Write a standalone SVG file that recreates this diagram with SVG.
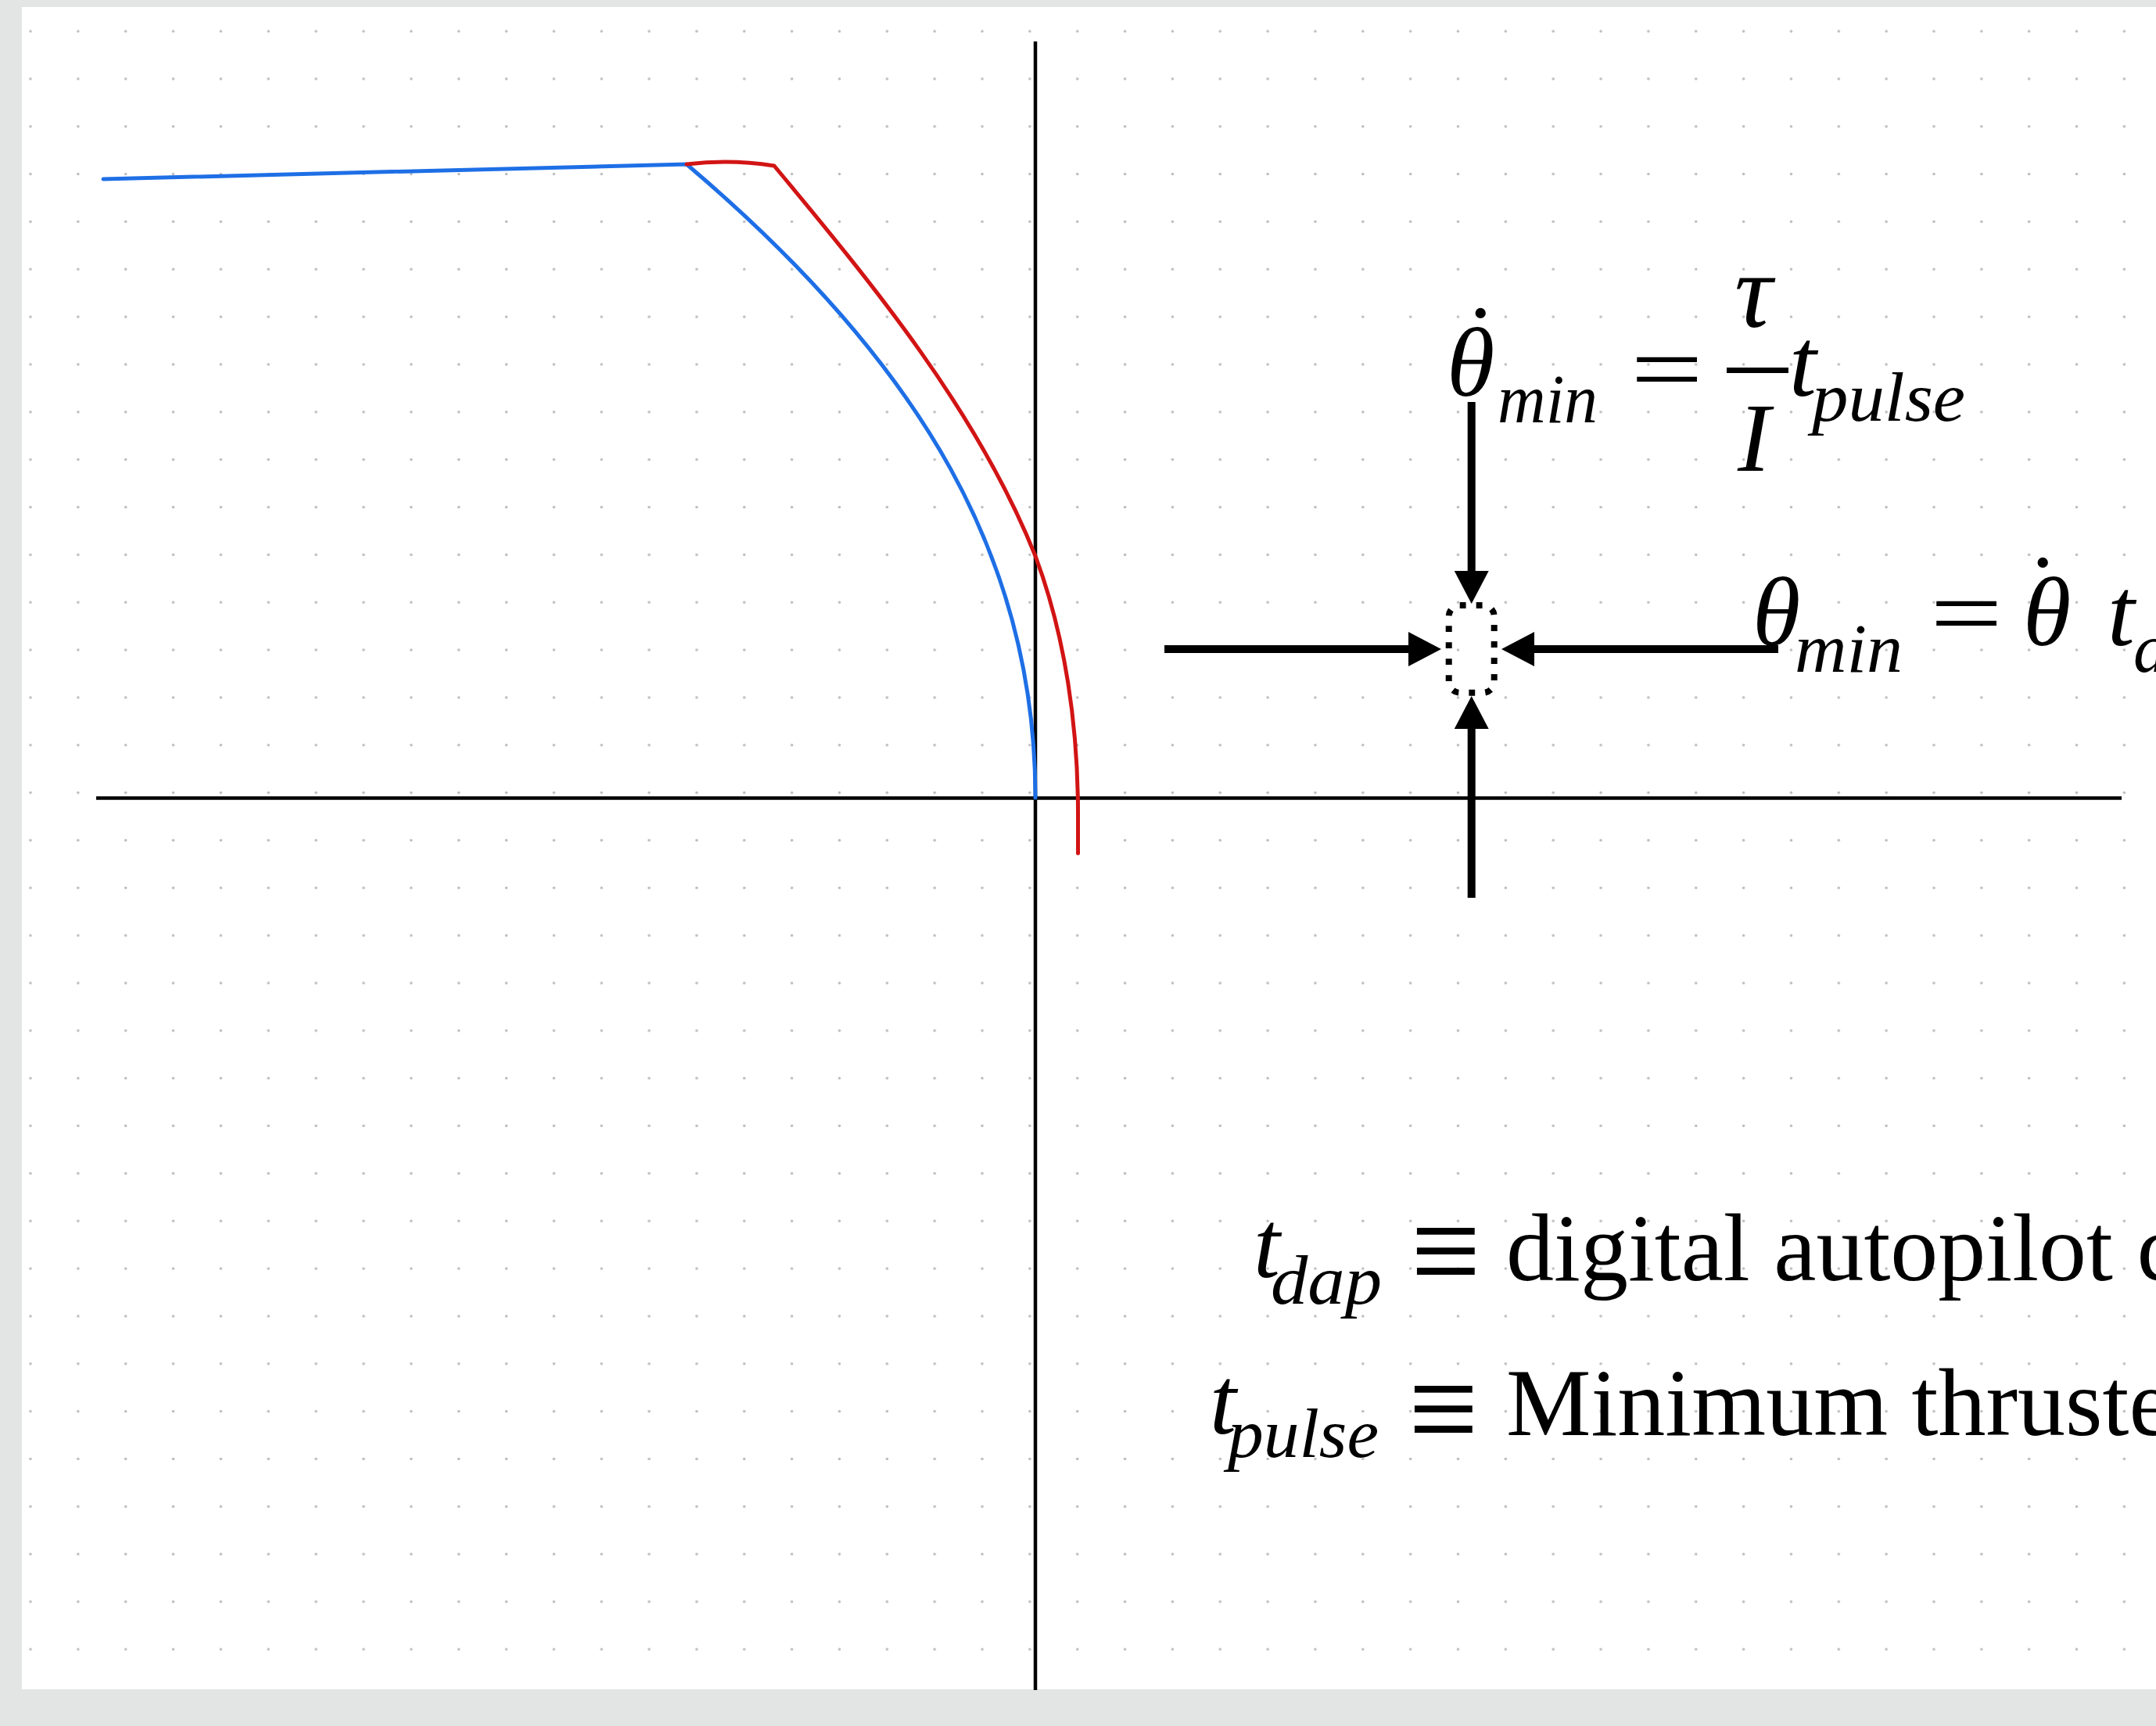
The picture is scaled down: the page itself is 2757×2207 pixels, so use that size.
<svg xmlns="http://www.w3.org/2000/svg" width="2757" height="2207" viewBox="0 0 2757 2207">
<style>
.math{font-family:"Liberation Serif","Times New Roman",serif;font-style:italic;fill:#000}
.rm{font-family:"Liberation Serif","Times New Roman",serif;fill:#000}
.axis{stroke:#000;stroke-width:4.5;fill:none}
.shaft{stroke:#000;stroke-width:10;fill:none;marker-end:url(#head)}
</style>
<defs>
<pattern id="dots" patternUnits="userSpaceOnUse" x="8.575" y="9.575" width="60.85" height="60.85">
<circle cx="30.425" cy="30.425" r="1.8" fill="#bdbdbd"/>
</pattern>
<marker id="head" markerUnits="userSpaceOnUse" viewBox="0 0 42 44" markerWidth="42" markerHeight="44" refX="1" refY="22" orient="auto">
<path d="M0,0 L42,22 L0,44 z" fill="#000"/>
</marker>
</defs>
<rect x="0" y="0" width="2757" height="2207" fill="#e3e4e4"/>
<rect x="28" y="9" width="2729" height="2151" fill="#ffffff"/>
<rect x="28" y="9" width="2729" height="2151" fill="url(#dots)"/>

<g id="axes">
<line class="axis" x1="123" y1="1020.5" x2="2713" y2="1020.5"/>
<line class="axis" x1="1324" y1="53" x2="1324" y2="2161"/>
</g>

<g id="blue-curve" fill="none" stroke="#1e6fe6" stroke-width="5" stroke-linecap="round" stroke-linejoin="round">
<path d="M132,229 L878,210 C1183.6,469 1324,720 1324,1020"/>
</g>

<g id="red-curve" fill="none" stroke="#d21414" stroke-width="5" stroke-linecap="round" stroke-linejoin="round">
<path d="M878,210 Q934,203 990,212 C1118,366 1250,526 1324,711 C1362.6,814 1378.5,930 1378.5,1040 L1378.5,1091"/>
</g>

<g id="target-box">
<rect x="1852.7" y="774" width="58" height="111.7" rx="14" fill="none" stroke="#000" stroke-width="8" pathLength="300" stroke-dasharray="7.5 12.5"/>
</g>

<g id="connectors">
<line class="shaft" x1="1881.7" y1="514" x2="1881.7" y2="731"/>
<line class="shaft" x1="1489" y1="830" x2="1802" y2="830"/>
<line class="shaft" x1="2274" y1="830" x2="1961" y2="830"/>
<line class="shaft" x1="1881.7" y1="1148" x2="1881.7" y2="931"/>
</g>

<g id="equation-rate">
<text class="math" x="1850" y="506" font-size="125">θ</text>
<text class="rm" x="1893" y="477" font-size="125" text-anchor="middle">˙</text>
<text class="math" x="1915" y="540" font-size="88" textLength="128" lengthAdjust="spacingAndGlyphs">min</text>
<text class="rm" x="0" y="0" font-size="125" transform="translate(2085,514) scale(1.32,1)">=</text>
<text class="math" x="2218" y="418" font-size="135">τ</text>
<rect x="2208" y="470" width="79" height="7" fill="#000"/>
<text class="math" x="2222" y="602" font-size="125">I</text>
<text class="math" x="2288" y="506" font-size="125">t</text>
<text class="math" x="2317" y="538" font-size="88" textLength="196" lengthAdjust="spacingAndGlyphs">pulse</text>
</g>

<g id="equation-angle">
<text class="math" x="2241" y="825" font-size="125">θ</text>
<text class="math" x="2295" y="859" font-size="88" textLength="138" lengthAdjust="spacingAndGlyphs">min</text>
<text class="rm" x="0" y="0" font-size="125" transform="translate(2468,826) scale(1.32,1)">=</text>
<text class="math" x="2587" y="825" font-size="125">θ</text>
<text class="rm" x="2612" y="796" font-size="125" text-anchor="middle">˙</text>
<text class="math" x="2695" y="825" font-size="125">t</text>
<text class="math" x="2728" y="859" font-size="88">d</text>
</g>

<g id="definitions">
<text class="math" x="1603" y="1633" font-size="122">t</text>
<text class="math" x="1625" y="1667" font-size="88" textLength="142" lengthAdjust="spacingAndGlyphs">dap</text>
<text class="rm" x="0" y="0" font-size="122" transform="translate(1804,1659) scale(1.3,1.46)">≡</text>
<text class="rm" x="1926" y="1637" font-size="122">digital autopilot c</text>
<text class="math" x="1547" y="1833" font-size="122">t</text>
<text class="math" x="1570" y="1863" font-size="88" textLength="193" lengthAdjust="spacingAndGlyphs">pulse</text>
<text class="rm" x="0" y="0" font-size="122" transform="translate(1801,1861) scale(1.3,1.46)">≡</text>
<text class="rm" x="1926" y="1835" font-size="122">Minimum thruste</text>
</g>
</svg>
